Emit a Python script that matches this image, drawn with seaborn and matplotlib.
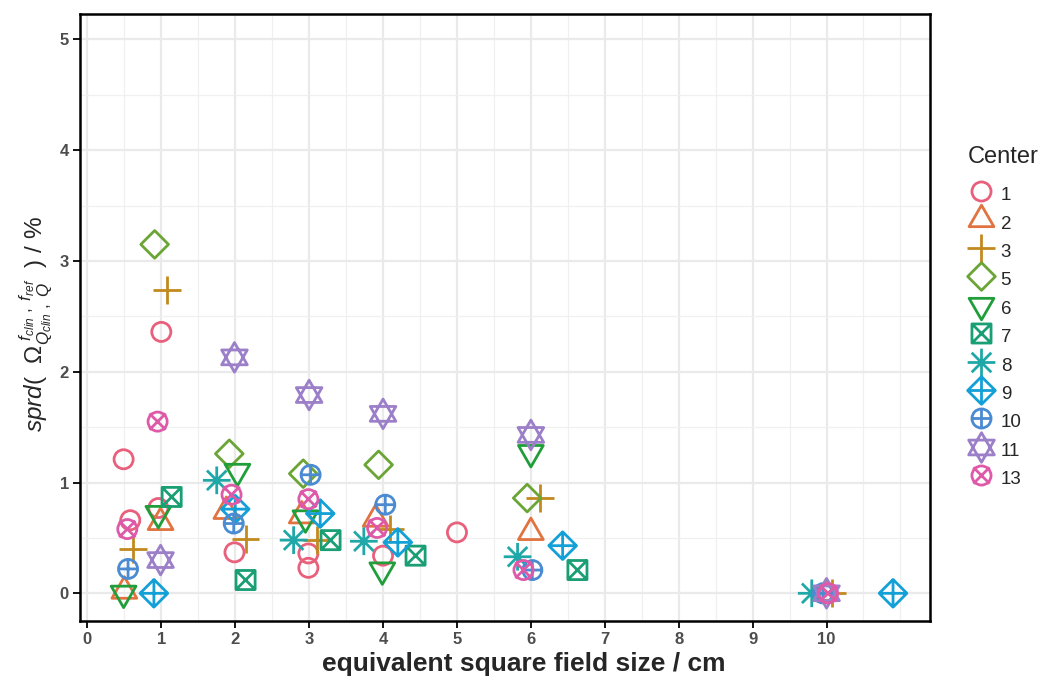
import numpy as np
import pandas as pd
import seaborn as sns
import matplotlib
matplotlib.use("Agg")
import matplotlib.pyplot as plt
from matplotlib.path import Path
from matplotlib.markers import MarkerStyle
from matplotlib.lines import Line2D
from matplotlib.ticker import MultipleLocator

# ---- data: spread per participating center vs. equivalent square field size ----
centers = ["1", "2", "3", "5", "6", "7", "8", "9", "10", "11", "13"]
center_colors = ["#E8607C", "#E0733F", "#C28A1E", "#6AA535", "#1F9E3A", "#1A9E74",
                 "#20A8A8", "#12A0D7", "#4B8BD2", "#9C7FC9", "#DE5AA8"]

c1_size = [0.49, 0.58, 0.96, 1.00, 1.99, 2.99, 2.99, 4.00, 5.00, 10.00]
c1_sprd = [1.21, 0.66, 0.77, 2.36, 0.37, 0.36, 0.23, 0.34, 0.55, 0.00]
c2_size = [0.50, 0.99, 1.88, 2.90, 3.90, 6.00, 10.00]
c2_sprd = [0.02, 0.64, 0.74, 0.70, 0.67, 0.55, 0.00]
c3_size = [0.62, 1.08, 2.14, 3.11, 4.10, 6.12, 10.08]
c3_sprd = [0.40, 2.74, 0.49, 0.48, 0.58, 0.86, 0.00]
c5_size = [0.91, 1.92, 2.92, 3.94, 5.95]
c5_sprd = [3.15, 1.26, 1.08, 1.16, 0.86]
c6_size = [0.49, 0.96, 2.03, 2.95, 3.99, 6.00]
c6_sprd = [0.00, 0.72, 1.10, 0.68, 0.21, 1.27]
c7_size = [1.14, 2.14, 3.29, 4.44, 6.63]
c7_sprd = [0.87, 0.12, 0.48, 0.34, 0.21]
c8_size = [1.75, 2.79, 3.74, 5.82, 9.80]
c8_sprd = [1.02, 0.48, 0.47, 0.33, 0.00]
c9_size = [0.90, 2.00, 3.15, 4.20, 6.43, 10.90]
c9_sprd = [0.00, 0.76, 0.72, 0.46, 0.43, 0.00]
c10_size = [0.55, 1.98, 3.02, 4.03, 6.02, 9.95]
c10_sprd = [0.22, 0.63, 1.07, 0.80, 0.21, 0.00]
c11_size = [0.99, 1.99, 3.00, 4.00, 6.00, 10.00]
c11_sprd = [0.30, 2.13, 1.79, 1.62, 1.43, 0.00]
c13_size = [0.54, 0.95, 1.95, 2.99, 3.92, 5.90, 10.02]
c13_sprd = [0.58, 1.55, 0.89, 0.85, 0.59, 0.21, 0.00]

x_ticks = [0, 1, 2, 3, 4, 5, 6, 7, 8, 9, 10]
y_ticks = [0, 1, 2, 3, 4, 5]

series = {
    "1": (c1_size, c1_sprd), "2": (c2_size, c2_sprd), "3": (c3_size, c3_sprd),
    "5": (c5_size, c5_sprd), "6": (c6_size, c6_sprd), "7": (c7_size, c7_sprd),
    "8": (c8_size, c8_sprd), "9": (c9_size, c9_sprd), "10": (c10_size, c10_sprd),
    "11": (c11_size, c11_sprd), "13": (c13_size, c13_sprd),
}
df = pd.concat(
    [pd.DataFrame({"size": xs, "sprd": ys, "Center": c}) for c, (xs, ys) in series.items()],
    ignore_index=True,
)

# ---- open marker shapes (common scale via an invisible bounding move-to) ----
BOUND = 1.6
M, L = Path.MOVETO, Path.LINETO


def seg(p0, p1):
    return Path([p0, p1], [M, L])


def poly(pts):
    return Path(list(pts) + [pts[0]], closed=True)


def shape(*parts):
    return Path.make_compound_path(Path([(BOUND, BOUND)], [M]), *parts)


def tri(r, up=True):
    s = 1 if up else -1
    return poly([(0, s * r), (-r * np.cos(np.pi / 6), -s * r / 2), (r * np.cos(np.pi / 6), -s * r / 2)])


circ = Path.circle((0, 0), 1.0)
d = 1.45
diamond = poly([(0, d), (d, 0), (0, -d), (-d, 0)])
q = 1.0
square = poly([(-q, -q), (q, -q), (q, q), (-q, q)])
a = 1.45
a2 = a / np.sqrt(2)
x13 = 0.85

marker_paths = {
    "1": shape(circ),
    "2": shape(tri(1.5, True)),
    "3": shape(seg((-1.45, 0), (1.45, 0)), seg((0, -1.45), (0, 1.45))),
    "5": shape(diamond),
    "6": shape(tri(1.5, False)),
    "7": shape(square, seg((-q, -q), (q, q)), seg((-q, q), (q, -q))),
    "8": shape(seg((-a, 0), (a, 0)), seg((0, -a), (0, a)),
               seg((-a2, -a2), (a2, a2)), seg((-a2, a2), (a2, -a2))),
    "9": shape(diamond, seg((-d, 0), (d, 0)), seg((0, -d), (0, d))),
    "10": shape(circ, seg((-1, 0), (1, 0)), seg((0, -1), (0, 1))),
    "11": shape(tri(1.55, True), tri(1.55, False)),
    "13": shape(circ, seg((-x13, -x13), (x13, x13)), seg((-x13, x13), (x13, -x13))),
}
palette = dict(zip(centers, center_colors))

MS = 22.0          # marker size in points
LW = 2.0           # stroke width in points

# ---- figure ----
sns.set_style("white")
plt.rcParams["font.family"] = ["Liberation Sans", "DejaVu Sans"]
plt.rcParams["mathtext.fontset"] = "custom"
plt.rcParams["mathtext.rm"] = "Liberation Sans"
plt.rcParams["mathtext.it"] = "Liberation Sans:italic"
plt.rcParams["mathtext.bf"] = "Liberation Sans:bold"

fig = plt.figure(figsize=(10.41, 6.80), dpi=100)
ax = fig.add_axes([80 / 1041, 1 - 621 / 680, 850 / 1041, 607 / 680])

sns.scatterplot(data=df, x="size", y="sprd", hue="Center", style="Center",
                hue_order=centers, style_order=centers, palette=palette,
                markers=marker_paths, s=MS ** 2, linewidth=LW, legend=False,
                zorder=3, ax=ax)

# render the markers as outlines in the center colour
for coll in ax.collections:
    fc = coll.get_facecolors()
    coll.set_edgecolors(fc)
    coll.set_facecolors("none")
    coll.set_linewidths(LW)

ax.set_xlim(-0.1, 11.4)
ax.set_ylim(-0.25, 5.23)
ax.set_xticks(x_ticks)
ax.set_xticklabels([str(t) for t in x_ticks])
ax.set_yticks(y_ticks)
ax.set_yticklabels([str(t) for t in y_ticks])
ax.xaxis.set_minor_locator(MultipleLocator(0.5))
ax.yaxis.set_minor_locator(MultipleLocator(0.5))
ax.grid(which="major", color="#EAEAEA", linewidth=1.6, zorder=0)
ax.grid(which="minor", color="#F0F0F0", linewidth=0.9, zorder=0)
ax.set_axisbelow(True)

ax.tick_params(axis="both", which="major", length=5, width=1.3, color="black",
               labelsize=12, labelcolor="#4D4D4D", pad=3, bottom=True, left=True)
ax.tick_params(axis="both", which="minor", length=0)
for lab in ax.get_xticklabels() + ax.get_yticklabels():
    lab.set_fontweight("bold")
for sp in ax.spines.values():
    sp.set_color("black")
    sp.set_linewidth(1.8)

ax.set_xlabel("equivalent square field size / cm", fontsize=19, fontweight="bold")
ax.xaxis.set_label_coords(0.522, -0.051)
ax.set_ylabel(r"$sprd(\ \ \Omega^{\ f_{clin}\ ,\ f_{ref}}_{Q_{clin}\ ,\ Q}\ \ )\ /\ \%$",
              fontsize=17.5)
ax.yaxis.set_label_coords(-0.031, 0.49)

# legend: title placed as its own text, entries below it
fig.text(968 / 1041, 1 - 157 / 680, "Center", fontsize=17, va="center", ha="left")
handles = [
    Line2D([0], [0], marker=MarkerStyle(marker_paths[c]), linestyle="none",
           markerfacecolor="none", markeredgecolor=palette[c],
           markersize=MS, markeredgewidth=LW, label=c)
    for c in centers
]
fig.legend(handles=handles, loc="upper left", bbox_to_anchor=(966 / 1041, 1 - 182 / 680),
           frameon=False, fontsize=13.5, handlelength=1.6, handleheight=1.6,
           labelspacing=0.23, handletextpad=0.25, borderaxespad=0, borderpad=0)

fig.savefig("out.png", dpi=100)
